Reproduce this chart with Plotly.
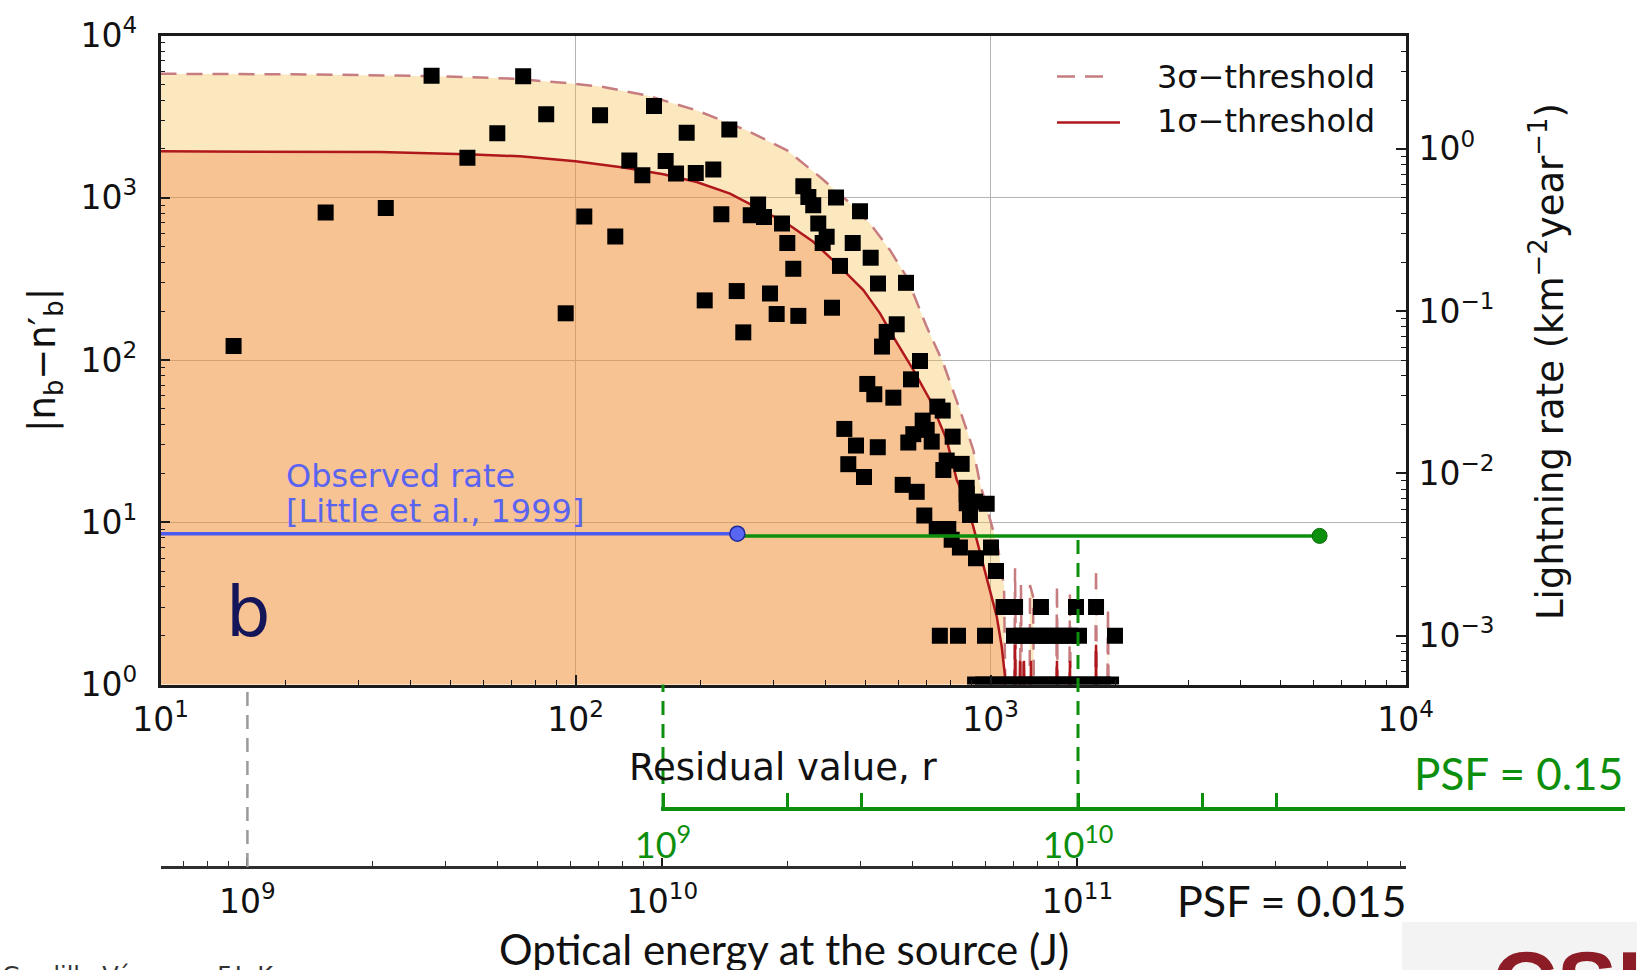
import math
import plotly.graph_objects as go

W, H = 1637, 970

# ---------------------------------------------------------------- data
# detected events: residual value r and |n_b - n'_b|
event_r = [15.0, 25.0, 34.9, 45.0, 54.9, 64.8, 74.8, 85.0, 94.7, 105, 114.6, 154.6, 185.3, 234.8,
           134.8, 144.9, 164.9, 174.7, 194.9, 214.8, 124.7, 224.6, 264.4, 275.4, 284.6, 314.5,
           354, 364, 374, 424.4, 484.8, 323.9, 384.6, 402.9, 394.1, 465.6, 514.4, 433.9, 334.8,
           535.7, 204.8, 244.6, 294.2, 305.3, 344.3, 415, 253.7, 547.8, 625.8, 594.3, 562.2,
           676.2, 643.3, 504.8, 524.8, 583.3, 744.5, 767.1, 686.4, 701.9, 651.6, 633.8, 721.7,
           810.6, 444.4, 474.2, 535, 454.3, 495.7, 784.2, 852.1, 769.7, 614.4, 664, 876.2, 692.6,
           876.2, 876.2, 917.6, 979.1, 892.4, 742, 791.2, 806.2, 844, 922.7, 1002.8, 1031]
event_n = [122, 811, 865, 5650, 1767, 2494, 5617, 3265, 194, 767, 3220, 3672, 2518, 2630,
           1694, 1375, 1685, 1409, 1421, 1491, 577, 791, 780, 908, 762, 694,
           1177, 1011, 899, 1003, 826, 527, 694, 574, 527, 527, 427, 380, 365,
           296, 233, 266, 257, 192, 187, 210, 148, 121, 299, 166, 149,
           98.6, 76, 71.2, 61.5, 58.6, 51.6, 48.8, 42.3, 37.1, 34.9, 31.0, 31.4,
           33.7, 37.6, 29.7, 29.0, 22.8, 19.0, 24.0, 22.9, 21.0, 17.0, 15.4, 16.3, 11.0,
           14.9, 13.1, 13.4, 13.0, 11.1, 9.1, 9.1, 7.8, 7.0, 6.0, 7.0, 5.0]

# low-count events (n = 3, 2, 1)
low_r = [1075, 1146, 1323, 1607, 1796,
         755, 835, 970, 1139, 1191, 1245, 1302, 1361, 1422, 1487, 1554, 1634, 1995,
         918, 959, 1003, 1048, 1096, 1146, 1197, 1252, 1309, 1368, 1430, 1495, 1563,
         1634, 1708, 1786, 1866, 1952]
low_n = [3, 3, 3, 3, 3,
         2, 2, 2, 2, 2, 2, 2, 2, 2, 2, 2, 2, 2,
         1, 1, 1, 1, 1, 1, 1, 1, 1, 1, 1, 1, 1,
         1, 1, 1, 1, 1]

# 1-sigma threshold (values of 0.05 lie below the plotted range)
sig1_r = [10, 33.8, 54.9, 73.5, 100, 114.6, 130.4, 162.8, 195.9, 235.7, 273.4, 323.4, 374,
          434, 493.8, 541.7, 583.3, 651.6, 714.9, 784.4, 829, 868, 909, 952.6, 997, 1035,
          1064, 1084, 1108, 1133, 1146, 1158, 1178, 1191, 1204, 1218, 1238, 1252, 1266,
          1430, 1446, 1462, 1537, 1554, 1572, 1776, 1796, 1816, 3200]
sig1_n = [1932, 1914, 1853, 1800, 1677, 1600, 1534, 1395, 1251, 1061, 870, 694, 535,
          375, 270, 194, 139, 86.8, 56.7, 32.2, 18.3, 13.8, 9.4, 5.9, 3.67, 2.63,
          1.72, 1.12, 0.05, 0.05, 1.76, 0.05, 1.4, 0.05, 1.4, 0.05, 0.05, 1.4, 0.05,
          0.05, 1.4, 0.05, 0.05, 1.4, 0.05, 0.05, 1.76, 0.05, 0.05]

# 3-sigma threshold
sig3_r = [10, 23.4, 48.9, 70.8, 93.5, 114.6, 148.5, 195.9, 258.5, 323.4, 388.3, 450.2,
          512.4, 572.6, 628.1, 702, 769.7, 844, 909, 943, 988, 1044, 1078,
          1102, 1133, 1146, 1165, 1184, 1204, 1238, 1245, 1266, 1287, 1430, 1446, 1462,
          1537, 1554, 1572, 1776, 1796, 1816, 1897, 1919, 1941, 3200]
sig3_n = [5810, 5754, 5598, 5415, 5115, 4853, 4275, 3455, 2603, 1960, 1343, 966,
          694, 475, 325, 160, 95.4, 49.2, 27.9, 17.4, 11.4, 6.8, 4.0,
          0.05, 0.05, 5.2, 0.05, 4.1, 0.05, 0.05, 4.1, 3.5, 0.05, 0.05, 4.1, 0.05,
          0.05, 3.7, 0.05, 0.05, 5.2, 0.05, 0.05, 3.0, 0.05, 0.05]

# observed lightning rate [Little et al., 1999] (km^-2 year^-1) and its extension
observed_r = [10, 245.5]
observed_rate = [4.25e-3, 4.25e-3]
extension_r = [245.5, 6209]
extension_rate = [4.12e-3, 4.12e-3]

# counts -> lightning rate (km^-2 year^-1)
RATE_PER_COUNT = 1 / 2000

# axis ticks
r_ticks = [10, 100, 1000, 10000]
r_ticktext = ["10<sup>1</sup>", "10<sup>2</sup>", "10<sup>3</sup>", "10<sup>4</sup>"]
n_ticks = [1, 10, 100, 1000, 10000]
n_ticktext = ["10<sup>0</sup>", "10<sup>1</sup>", "10<sup>2</sup>", "10<sup>3</sup>", "10<sup>4</sup>"]
rate_ticks = [1e-3, 1e-2, 1e-1, 1]
rate_ticktext = ["10<sup>−3</sup>", "10<sup>−2</sup>", "10<sup>−1</sup>", "10<sup>0</sup>"]
energy_ticks = [1e9, 1e10, 1e11]
energy_ticktext = ["10<sup>9</sup>", "10<sup>10</sup>", "10<sup>11</sup>"]
energy15_ticks = [1e9, 1e10]
energy15_ticktext = ["10<sup>9</sup>", "10<sup>10</sup>"]
energy15_minor = [2e9, 3e9, 2e10, 3e10]

# ---------------------------------------------------------------- styles
def fx(px):
    return px / W


def fy(py):
    return 1 - py / H


def minors(lo_exp, hi_exp):
    return [m * 10 ** e for e in range(lo_exp, hi_exp) for m in range(2, 10)]


INK = "#1b1b1b"
GRID = "#b3b3b3"
GREEN = "#0c8f0c"
BLUE = "#4b5bef"
SIG1 = "#b0171c"
SIG3 = "#c77d80"
ORANGE_FILL = "rgba(240,146,56,0.55)"
YELLOW_FILL = "rgba(246,189,69,0.35)"
FONT = "DejaVu Sans"
HUM = "Lato"

TICKFONT = dict(family=FONT, size=33, color="#111111")

fig = go.Figure()

# fills: floor -> 1 sigma (orange), 1 sigma -> 3 sigma (yellow)
fig.add_trace(go.Scatter(x=[10, 10000], y=[1e-3, 1e-3], mode="lines",
                         line=dict(width=0), hoverinfo="skip"))
fig.add_trace(go.Scatter(x=sig1_r, y=sig1_n, mode="lines", line=dict(width=0),
                         fill="tonexty", fillcolor=ORANGE_FILL, hoverinfo="skip"))
fig.add_trace(go.Scatter(x=sig3_r, y=sig3_n, mode="lines", line=dict(width=0),
                         fill="tonexty", fillcolor=YELLOW_FILL, hoverinfo="skip"))

# threshold curves
fig.add_trace(go.Scatter(x=sig3_r, y=sig3_n, mode="lines",
                         line=dict(color=SIG3, width=2.5, dash="16px,10px")))
fig.add_trace(go.Scatter(x=sig1_r, y=sig1_n, mode="lines",
                         line=dict(color=SIG1, width=2.5)))

# events
fig.add_trace(go.Scatter(x=event_r + low_r, y=event_n + low_n, mode="markers",
                         marker=dict(symbol="square", size=16, color="black",
                                     line=dict(width=0))))

# observed rate and its extension, on the lightning-rate axis
fig.add_trace(go.Scatter(x=extension_r, y=extension_rate, yaxis="y2", mode="lines",
                         line=dict(color=GREEN, width=3.5)))
fig.add_trace(go.Scatter(x=observed_r, y=observed_rate, yaxis="y2", mode="lines",
                         line=dict(color=BLUE, width=3.5)))
fig.add_trace(go.Scatter(x=extension_r[-1:], y=extension_rate[-1:], yaxis="y2",
                         mode="markers",
                         marker=dict(symbol="circle", size=15, color=GREEN,
                                     line=dict(color="#086b08", width=1))))
fig.add_trace(go.Scatter(x=observed_r[-1:], y=observed_rate[-1:], yaxis="y2",
                         mode="markers",
                         marker=dict(symbol="circle", size=15, color="#5866f2",
                                     line=dict(color="#1f2a99", width=1.5))))

axis_common = dict(type="log", showline=True, linecolor=INK, linewidth=2.5,
                   ticks="inside", ticklen=10, tickwidth=1.5, tickcolor=INK,
                   tickfont=TICKFONT, zeroline=False, automargin=False)

rate_lo = math.log10(RATE_PER_COUNT)

fig.update_layout(
    width=W, height=H,
    margin=dict(l=0, r=0, t=0, b=0),
    paper_bgcolor="white", plot_bgcolor="rgba(0,0,0,0)",
    showlegend=False,
    font=dict(family=FONT, color="#111111"),
    xaxis=dict(axis_common, domain=[fx(160.5), fx(1405.5)], anchor="y", range=[1, 4],
               mirror=True, tickvals=r_ticks, ticktext=r_ticktext,
               ticklabelstandoff=4,
               minor=dict(ticks="inside", ticklen=5, tickwidth=1.2, tickcolor=INK,
                          tickvals=minors(1, 4), showgrid=False),
               showgrid=True, gridcolor=GRID, gridwidth=1),
    yaxis=dict(axis_common, domain=[fy(684.5), fy(35.5)], anchor="x", range=[0, 4],
               mirror=True, tickvals=n_ticks, ticktext=n_ticktext,
               ticklabelstandoff=14,
               minor=dict(ticks="inside", ticklen=5, tickwidth=1.2, tickcolor=INK,
                          tickvals=minors(0, 4), showgrid=False),
               showgrid=True, gridcolor=GRID, gridwidth=1),
    yaxis2=dict(axis_common, overlaying="y", side="right", anchor="x",
                range=[rate_lo, rate_lo + 4], showline=False,
                tickvals=rate_ticks, ticktext=rate_ticktext, ticklabelstandoff=12,
                minor=dict(ticks="inside", ticklen=5, tickwidth=1.2, tickcolor=INK,
                           tickvals=minors(-4, 1), showgrid=False),
                showgrid=False),
    xaxis2=dict(axis_common, overlaying="x", anchor="free", position=fy(867), side="bottom",
                range=[8.7906, 11.7906], linewidth=3, linecolor="#2e2e2e",
                ticklen=8, tickvals=energy_ticks, ticktext=energy_ticktext,
                ticklabelstandoff=4,
                minor=dict(ticks="inside", ticklen=5, tickwidth=1.2, tickcolor="#2e2e2e",
                           tickvals=minors(8, 12), showgrid=False),
                showgrid=False),
    # hidden companion for the PSF = 0.15 energy scale, sitting just above it
    yaxis3=dict(domain=[fy(807), fy(700)], anchor="x3", visible=False, showgrid=False,
                range=[0, 1]),
    xaxis3=dict(axis_common, domain=[fx(661), fx(1625)], anchor="y3",
                side="bottom", range=[9 - 2 / 415, 9 + 962 / 415],
                linewidth=4, linecolor=GREEN, ticklen=14, tickwidth=3, tickcolor=GREEN,
                tickvals=energy15_ticks, ticktext=energy15_ticktext,
                tickfont=dict(family=HUM, size=36, color=GREEN), ticklabelstandoff=4,
                minor=dict(ticks="inside", ticklen=14, tickwidth=3, tickcolor=GREEN,
                           tickvals=energy15_minor, showgrid=False),
                showgrid=False),
)

# reference lines linking the energy scales
fig.add_shape(type="line", xref="x2", yref="paper", x0=1e9, x1=1e9,
              y0=fy(867), y1=fy(684.5), line=dict(color="#9a9a9a", width=2.5, dash="14px,9px"))
fig.add_shape(type="line", xref="x3", yref="paper", x0=1e9, x1=1e9,
              y0=fy(807), y1=fy(684.5), line=dict(color=GREEN, width=3, dash="14px,9px"))
fig.add_shape(type="line", xref="x3", yref="paper", x0=1e10, x1=1e10,
              y0=fy(807), y1=fy(537), line=dict(color=GREEN, width=3, dash="14px,9px"))

# legend
fig.add_shape(type="line", xref="paper", yref="paper", x0=fx(1057), x1=fx(1110),
              y0=fy(76.5), y1=fy(76.5), line=dict(color=SIG3, width=2.5, dash="18px,10px"))
fig.add_shape(type="line", xref="paper", yref="paper", x0=fx(1057), x1=fx(1120),
              y0=fy(122.5), y1=fy(122.5), line=dict(color=SIG1, width=2.5))

# CSIC corner
fig.add_shape(type="rect", xref="paper", yref="paper", x0=fx(1402), x1=1.0,
              y0=0.0, y1=fy(922), line=dict(width=0), fillcolor="#f3f3f3", layer="below")


def label(text, x, y, size, color="#111111", family=FONT, xanchor="center",
          yanchor="middle", angle=0):
    fig.add_annotation(text=text, x=fx(x), y=fy(y), xref="paper", yref="paper",
                       showarrow=False, xanchor=xanchor, yanchor=yanchor,
                       textangle=angle, font=dict(family=family, size=size, color=color))


label("3σ−threshold", 1155, 77, 32, xanchor="left")
label("1σ−threshold", 1155, 121, 32, xanchor="left")
label("Observed rate", 284, 476, 32, color="#5a64f0", xanchor="left")
label("[Little et al., 1999]", 284, 511, 32, color="#5a64f0", xanchor="left")
label("b", 248, 612, 70, color="#15155a")
label("|n<sub>b</sub>−n′<sub>b</sub>|", 45, 360, 37, angle=-90)
label("Lightning rate (km<sup>−2</sup>year<sup>−1</sup>)", 1547, 362, 37, angle=-90)
label("Residual value, r", 783, 767, 37)
label("PSF = 0.15", 1625, 773, 44, color=GREEN, family=HUM, xanchor="right")
label("PSF = 0.015", 1408, 900, 43, family=HUM, xanchor="right")
label("Optical energy at the source (J)", 784, 949, 42, family=HUM)
label("Gordillo-Vázquez, F.J. K", 0, 976, 24, color="#333333", xanchor="left")
label("<b>CSIC</b>", 1490, 984, 90, color="#8c1c26", family="Liberation Sans", xanchor="left")

fig.write_html("out.html")
